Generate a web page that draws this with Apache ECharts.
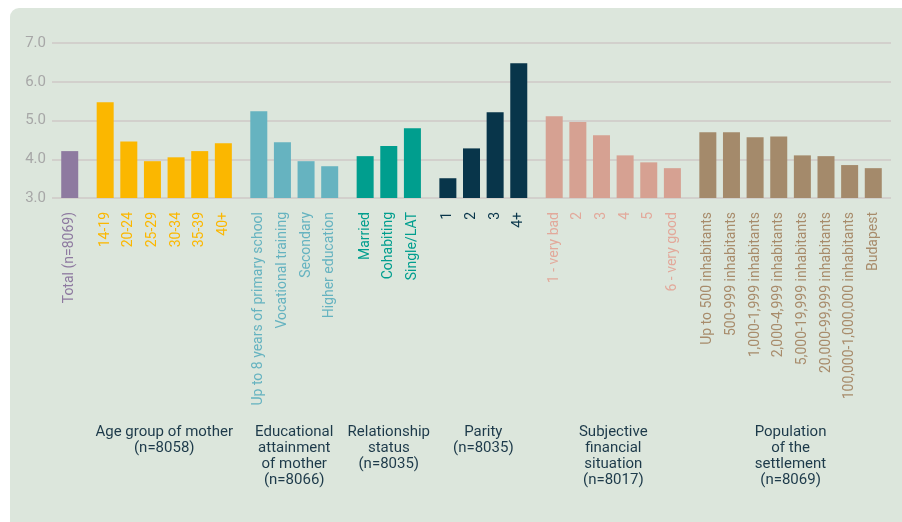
<!DOCTYPE html>
<html>
<head>
<meta charset="utf-8">
<script src="https://cdn.jsdelivr.net/npm/echarts@6/dist/echarts.min.js"></script>
<style>
html,body{margin:0;padding:0;background:#ffffff;}
#chart{width:902px;height:522px;}
</style>
</head>
<body>
<div id="chart"></div>
<script>
// ---- Data ----
const totalLabels = ['Total (n=8069)'];
const totalValues = [4.21];

const ageLabels = ['14-19', '20-24', '25-29', '30-34', '35-39', '40+'];
const ageValues = [5.47, 4.46, 3.95, 4.05, 4.21, 4.41];

const eduLabels = ['Up to 8 years of primary school', 'Vocational training', 'Secondary', 'Higher education'];
const eduValues = [5.24, 4.44, 3.95, 3.82];

const relLabels = ['Married', 'Cohabiting', 'Single/LAT'];
const relValues = [4.08, 4.34, 4.80];

const parityLabels = ['1', '2', '3', '4+'];
const parityValues = [3.51, 4.28, 5.21, 6.48];

const finLabels = ['1 - very bad', '2', '3', '4', '5', '6 - very good'];
const finValues = [5.11, 4.96, 4.62, 4.10, 3.92, 3.77];

const popLabels = ['Up to 500 inhabitants', '500-999 inhabitants', '1,000-1,999 inhabitants', '2,000-4,999 inhabitants',
  '5,000-19,999 inhabitants', '20,000-99,999 inhabitants', '100,000-1,000,000 inhabitants', 'Budapest'];
const popValues = [4.70, 4.70, 4.57, 4.59, 4.10, 4.08, 3.85, 3.77];

const groupTitles = ['', 'Age group of mother\n(n=8058)', 'Educational\nattainment\nof mother\n(n=8066)',
  'Relationship\nstatus\n(n=8035)', 'Parity\n(n=8035)', 'Subjective\nfinancial\nsituation\n(n=8017)',
  'Population\nof the\nsettlement\n(n=8069)'];

const yTicks = [3, 4, 5, 6, 7];

// ---- Styles ----
const groups = [
  {labels: totalLabels, values: totalValues, bar: '#8e7aa0', text: '#8e7aa0'},
  {labels: ageLabels, values: ageValues, bar: '#fbb700', text: '#fbb700'},
  {labels: eduLabels, values: eduValues, bar: '#66b3c0', text: '#66b3c0'},
  {labels: relLabels, values: relValues, bar: '#009e8e', text: '#009e8e'},
  {labels: parityLabels, values: parityValues, bar: '#08354a', text: '#08354a'},
  {labels: finLabels, values: finValues, bar: '#d6a192', text: '#e2a99b'},
  {labels: popLabels, values: popValues, bar: '#a48a6b', text: '#a88c6c'}
];

// Build slot-based category list: bars 2 slots apart within a group, 3 slots apart between groups
const cats = [];
const titleCats = [];
const barData = [];
function pushSlot(label, color, val, barColor) {
  cats.push(label === '' ? '' : {value: label, textStyle: {color: color}});
  titleCats.push('');
  barData.push(val === null ? '-' : {value: val, itemStyle: {color: barColor}});
}
function blank() { pushSlot('', null, null, null); }
blank();
groups.forEach((g, gi) => {
  if (gi > 0) { blank(); blank(); }
  const start = cats.length;
  g.labels.forEach((lab, i) => {
    if (i > 0) blank();
    pushSlot(lab, g.text, g.values[i], g.bar);
  });
  const end = cats.length - 1;
  if (gi > 0) {
    titleCats[Math.round((start + end) / 2)] = groupTitles[gi];
  }
});
blank();

const chart = echarts.init(document.getElementById('chart'), null, {renderer: 'canvas'});
const FONT = 'Roboto, "Noto Sans", sans-serif';

const option = {
  backgroundColor: '#ffffff',
  animation: false,
  graphic: {
    elements: [{
      type: 'rect', z: -100, silent: true,
      shape: {x: 10, y: 8, width: 905, height: 530, r: 9},
      style: {fill: '#dce6dc'}
    }]
  },
  grid: {left: 52, right: 11, top: 43, bottom: 324, containLabel: false, outerBoundsMode: 'none'},
  xAxis: [{
    type: 'category',
    data: cats,
    position: 'bottom',
    axisLine: {show: false},
    axisTick: {show: false},
    axisLabel: {interval: 0, rotate: 90, margin: 14, fontSize: 14, fontFamily: FONT},
    splitLine: {show: false}
  }, {
    type: 'category',
    data: titleCats,
    position: 'bottom',
    axisLine: {show: false},
    axisTick: {show: false},
    axisLabel: {interval: 0, margin: 226, fontSize: 15, lineHeight: 16, color: '#1d3a4a',
      fontFamily: FONT, align: 'center', verticalAlign: 'top'},
    splitLine: {show: false}
  }],
  yAxis: {
    type: 'value',
    min: yTicks[0], max: yTicks[yTicks.length - 1], interval: 1,
    axisLine: {show: false},
    axisTick: {show: false},
    axisLabel: {formatter: v => v.toFixed(1), fontSize: 15, color: '#a7a7a7', margin: 6, fontFamily: FONT},
    splitLine: {lineStyle: {color: '#d2d0cc', width: 2}}
  },
  series: [{
    type: 'bar',
    xAxisIndex: 0,
    data: barData,
    barWidth: 17
  }]
};
chart.setOption(option);
</script>
</body>
</html>
